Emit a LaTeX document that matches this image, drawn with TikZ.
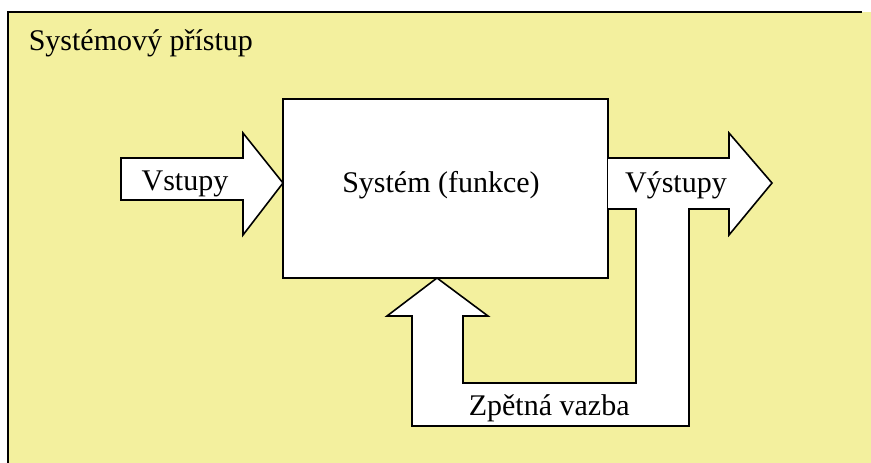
\documentclass[tikz,border=0pt]{standalone}
\usepackage{fontspec}
\setmainfont{Liberation Serif}
\definecolor{bgyellow}{RGB}{243,240,158}
\tikzset{
  blockarrow/.style={draw,fill=white,line join=miter},
  label/.style={font=\fontsize{30}{36}\selectfont,inner sep=0pt,anchor=base}
}
\begin{document}
\begin{tikzpicture}[x=1pt,y=-1pt,line width=1.6pt]
  \useasboundingbox (0,0) rectangle (871,463);
  \fill[bgyellow] (8,12) rectangle (871,463);
  \draw (8,463) -- (8,12) -- (862,12);
  \node[label,anchor=base west] (title) at (28,50) {Systémový přístup};
  % system box
  \draw[fill=white] (283,99) rectangle (608,278);
  \node[label] (system) at (441,192) {Systém (funkce)};
  % inputs
  \draw[blockarrow] (121,158) -- (243,158) -- (243,133) -- (283,183)
    -- (243,235) -- (243,200) -- (121,200) -- cycle;
  \node[label] (in) at (185,190) {Vstupy};
  % outputs and feedback
  \draw[blockarrow] (608,158) -- (729,158) -- (729,133) -- (772,183)
    -- (729,235) -- (729,209) -- (689,209) -- (689,426) -- (412,426)
    -- (412,316) -- (387,316) -- (437,278) -- (488,316) -- (463,316)
    -- (463,383) -- (636,383) -- (636,209) -- (608,209);
  \node[label] (out) at (676,192) {Výstupy};
  \node[label,anchor=base west] (fb) at (468,415) {Zpětná vazba};
\end{tikzpicture}
\end{document}
